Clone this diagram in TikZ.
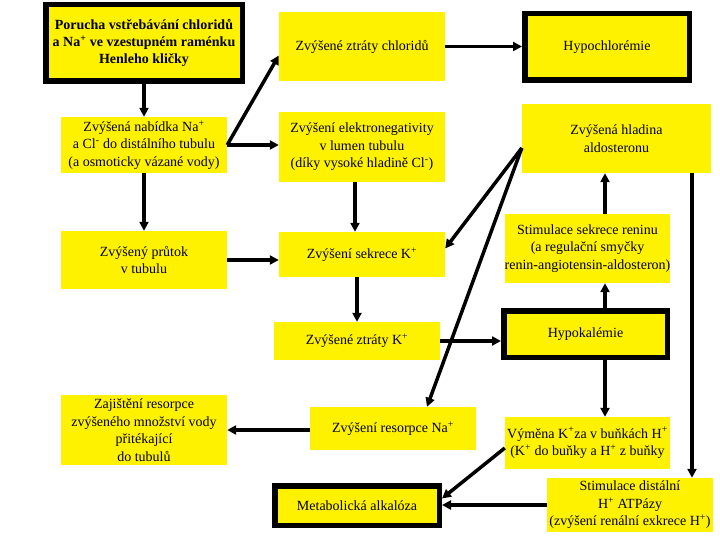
\documentclass[tikz,border=0pt]{standalone}
\usepackage{fontspec}
\setmainfont{Liberation Serif}
\usetikzlibrary{arrows.meta,calc}
\begin{document}
\begin{tikzpicture}[x=1pt,y=-1pt,
 box/.style={fill=yellow, inner sep=0pt, align=center, font=\fontsize{14}{17.5}\selectfont},
 thickbox/.style={box, draw=black, line width=5.5pt},
 conn/.style={line width=3.5pt, -{Triangle[length=9pt,width=9pt]}}]
\useasboundingbox (0,0) rectangle (720,540);
% left column
\node[thickbox, minimum width=196.5pt, minimum height=76.5pt, font=\bfseries\fontsize{14}{17}\selectfont] (A) at (144,43)
 {Porucha vstřebávání chloridů\\a Na\textsuperscript{+} ve vzestupném raménku\\Henleho kličky};
\node[box, minimum width=166pt, minimum height=56pt] (B) at (144,145)
 {Zvýšená nabídka Na\textsuperscript{+}\\a Cl\textsuperscript{-} do distálního tubulu\\(a osmoticky vázané vody)};
\node[box, minimum width=166pt, minimum height=58pt] (C) at (144,260)
 {Zvýšený průtok\\v tubulu};
\node[box, minimum width=166pt, minimum height=70pt] (P) at (144,430)
 {Zajištění resorpce\\zvýšeného množství vody\\přitékající\\do tubulů};
% middle column
\node[box, minimum width=166pt, minimum height=69pt] (D) at (362,46.5)
 {Zvýšené ztráty chloridů};
\node[box, minimum width=166pt, minimum height=70pt] (F) at (362,147)
 {Zvýšení elektronegativity\\v lumen tubulu\\(díky vysoké hladině Cl\textsuperscript{-})};
\node[box, minimum width=166pt, minimum height=45pt] (E) at (362,254.5)
 {Zvýšení sekrece K\textsuperscript{+}};
\node[box, minimum width=166pt, minimum height=38pt] (H) at (357,341)
 {Zvýšené ztráty K\textsuperscript{+}};
\node[box, minimum width=166pt, minimum height=43pt] (O) at (393,428.5)
 {Zvýšení resorpce Na\textsuperscript{+}};
\node[thickbox, minimum width=164.5pt, minimum height=39.5pt] (M) at (357,505.5)
 {Metabolická alkalóza};
% right column
\node[thickbox, minimum width=164.5pt, minimum height=66.5pt] (G) at (607,47)
 {Hypochlorémie};
\node[box, minimum width=189pt, minimum height=69pt] (I) at (616.5,138.5)
 {Zvýšená hladina\\aldosteronu};
\node[box, minimum width=165pt, minimum height=69pt] (J) at (587.5,248.5)
 {Stimulace sekrece reninu\\(a regulační smyčky\\renin-angiotensin-aldosteron)};
\node[thickbox, minimum width=163.5pt, minimum height=46.5pt] (K) at (585.5,334)
 {Hypokalémie};
\node[box, minimum width=165pt, minimum height=52pt] (L) at (587.5,443)
 {Výměna K\textsuperscript{+}za v buňkách H\textsuperscript{+}\\(K\textsuperscript{+} do buňky a H\textsuperscript{+} z buňky};
\node[box, minimum width=166pt, minimum height=54pt] (N) at (630,505)
 {Stimulace distální\\H\textsuperscript{+} ATPázy\\(zvýšení renální exkrece H\textsuperscript{+})};
% connectors
\coordinate (xc) at (605,0);
\coordinate (xr) at (692,0);
\coordinate (s) at ($(I.west)+(0,9.5)$);
\draw[conn] (A) -- (B);
\draw[conn] (B) -- (C);
\draw[conn] (B.east) -- ($(D.west)+(0,9)$);
\draw[conn] (B.east) -- (B.east -| F.west);
\draw[conn] (C) -- (C -| E.west);
\draw[conn] (D) -- (D -| G.west);
\draw[conn] ([xshift=-7pt]F.south) -- ([xshift=-7pt]E.north);
\draw[conn] (E.south -| H.north) -- (H.north);
\draw[conn] (H) -- (H -| K.west);
\draw[conn] (s) -- ($(E.east)+(0,-6)$);
\draw[conn] (s) -- ($(O.north)+(34,0)$);
\draw[conn] (J.north -| xc) -- (I.south -| xc);
\draw[conn] (K.north -| xc) -- (J.south -| xc);
\draw[conn] (K.south -| xc) -- (L.north -| xc);
\draw[conn] (I.south -| xr) -- (N.north -| xr);
\draw[conn] (N.west) -- (N.west -| M.east);
\draw[conn] ($(L.west)+(0,5)$) -- ($(M.east)+(0,-7)$);
\draw[conn] (O.west |- P) -- (P);
\end{tikzpicture}
\end{document}
